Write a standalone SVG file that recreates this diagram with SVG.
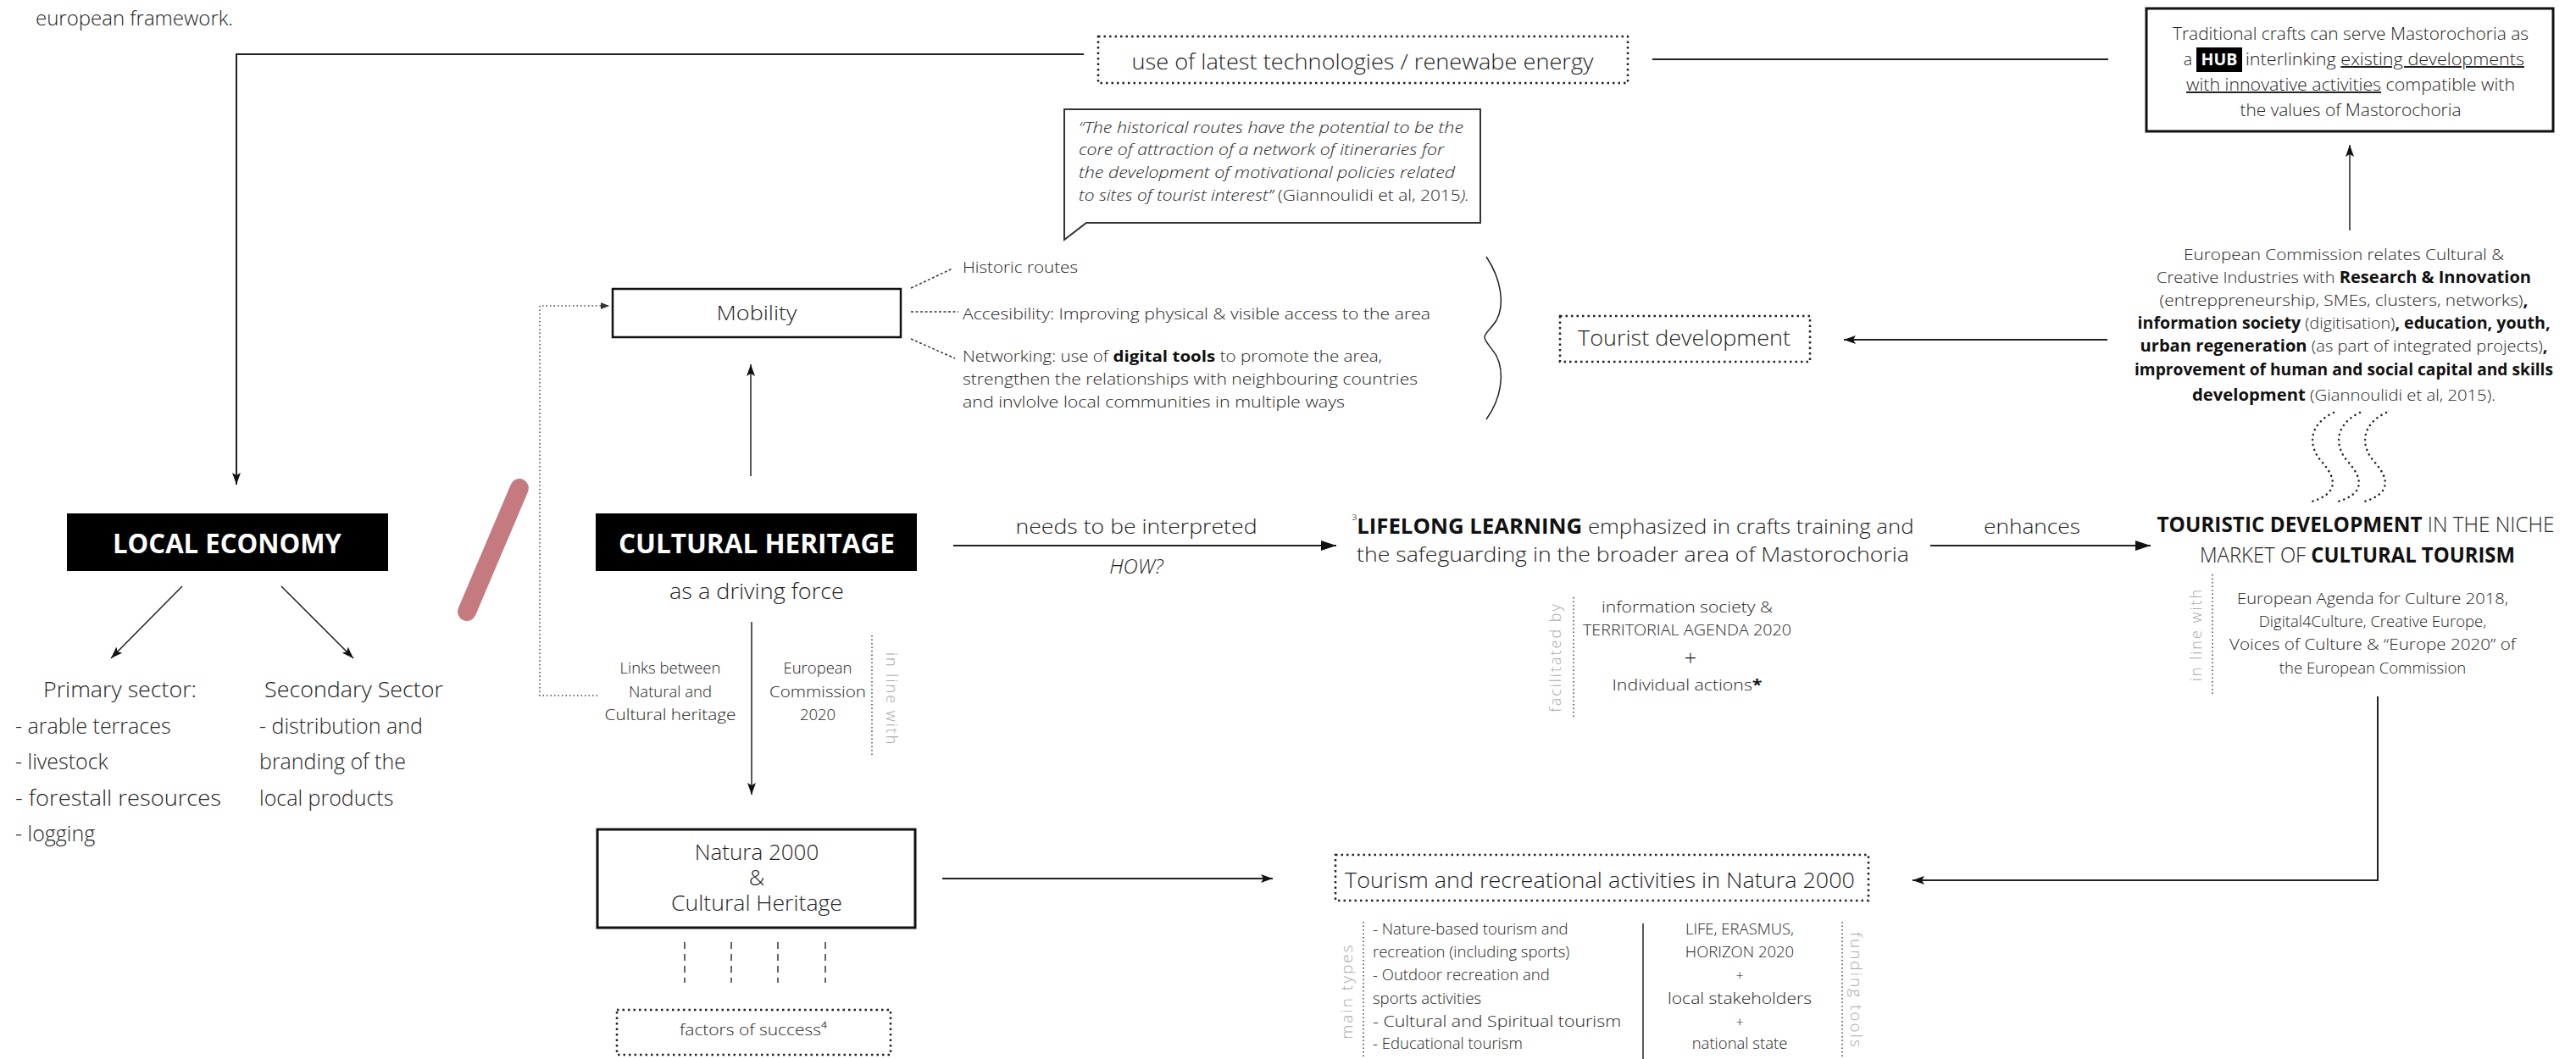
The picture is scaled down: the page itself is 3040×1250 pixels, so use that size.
<svg xmlns="http://www.w3.org/2000/svg" width="3040" height="1250" viewBox="0 0 3040 1250">
<style>
.f{font-family:"Open Sans","Liberation Sans",sans-serif;font-weight:300;fill:#1e1e1e}
.b{font-weight:700;fill:#111}
.it{font-style:italic}
.g{font-family:"Open Sans","Liberation Sans",sans-serif;font-weight:300;fill:#a9a9a9;letter-spacing:2px}
.m{text-anchor:middle}
.ln{fill:none;stroke:#222;stroke-width:2}
.thin{fill:none;stroke:#222;stroke-width:1.5}
.dotbox{fill:none;stroke:#222;stroke-width:2.5;stroke-dasharray:2.5 4}
.sep{fill:none;stroke:#444;stroke-width:1.5;stroke-dasharray:1.5 3}
.dash{fill:none;stroke:#333;stroke-width:1.5;stroke-dasharray:3 2.5}
.dots{fill:none;stroke:#222;stroke-width:2.5;stroke-linecap:round;stroke-dasharray:0.1 6}
</style>
<defs>
<marker id="a" viewBox="0 0 14 10" refX="14" refY="5" markerWidth="14" markerHeight="10" markerUnits="userSpaceOnUse" orient="auto"><path d="M0,0 L14,5 L0,10 L3,5 Z" fill="#111"/></marker>
<marker id="A" viewBox="0 0 18 12" refX="18" refY="6" markerWidth="18" markerHeight="12" markerUnits="userSpaceOnUse" orient="auto"><path d="M0,0 L18,6 L0,12 Z" fill="#111"/></marker>
<marker id="s" viewBox="0 0 10 8" refX="10" refY="4" markerWidth="10" markerHeight="8" markerUnits="userSpaceOnUse" orient="auto"><path d="M0,0 L10,4 L0,8 Z" fill="#333"/></marker>
</defs>
<rect width="3040" height="1250" fill="#fff"/>

<text class="f" x="42" y="30" font-size="24">european framework.</text>

<g id="connectors">
<path class="ln" d="M1279,64 H279 V572" marker-end="url(#a)"/>
<path class="ln" d="M2488,70 H1950"/>
<path class="thin" d="M2773,272 V171" marker-end="url(#a)"/>
<path class="ln" d="M2487,401 H2176" marker-end="url(#a)"/>
<path class="thin" d="M886,562 V430" marker-end="url(#a)"/>
<path class="sep" d="M705,821 H637 V361 H719" marker-end="url(#s)"/>
<path class="dash" d="M1075,340 L1124,317"/>
<path class="dash" d="M1075,368 H1131"/>
<path class="dash" d="M1075,400 L1127,423"/>
<path class="thin" d="M215,692 L131,777" marker-end="url(#a)"/>
<path class="thin" d="M332,692 L417,777" marker-end="url(#a)"/>
<path class="thin" d="M887,734 V938" marker-end="url(#a)"/>
<path class="ln" d="M1112,1037 H1502" marker-end="url(#a)"/>
<path class="ln" d="M1125,644 H1577" marker-end="url(#A)"/>
<path class="ln" d="M2278,644 H2538" marker-end="url(#A)"/>
<path class="ln" d="M2806,822 V1039 H2257" marker-end="url(#a)"/>
<path class="thin" d="M1754,303 C1772,330 1776,360 1766,378 C1760,388 1752,393 1752,398 C1752,403 1760,410 1766,420 C1776,440 1772,470 1754,495"/>
<g class="dots">
<path d="M2754,487 C2726,500 2722,525 2740,545 C2756,563 2762,582 2728,592"/>
<path d="M2785,487 C2757,500 2753,525 2771,545 C2787,563 2793,582 2759,592"/>
<path d="M2816,487 C2788,500 2784,525 2802,545 C2818,563 2824,582 2790,592"/>
</g>
<g fill="none" stroke="#333" stroke-width="1.5" stroke-dasharray="8 6">
<path d="M808,1112 V1160"/><path d="M863,1112 V1160"/><path d="M918,1112 V1160"/><path d="M974,1112 V1160"/>
</g>
<line x1="613" y1="576" x2="551" y2="722" stroke="#c47a7e" stroke-width="22" stroke-linecap="round"/>
</g>

<g id="tech">
<rect class="dotbox" x="1296" y="43" width="625" height="55"/>
<text class="f m" x="1608" y="82" font-size="25" textLength="545" lengthAdjust="spacingAndGlyphs">use of latest technologies / renewabe energy</text>
</g>

<g id="hub">
<rect x="2533" y="10" width="480" height="145" fill="none" stroke="#111" stroke-width="3"/>
<text class="f m" x="2774" y="47" font-size="19.5" textLength="420" lengthAdjust="spacingAndGlyphs">Traditional crafts can serve Mastorochoria as</text>
<text class="f" x="2587" y="77" font-size="19.5" text-anchor="end">a</text>
<rect x="2592" y="56" width="54" height="29" fill="#000"/>
<text class="f b m" x="2619" y="77" font-size="19.5" style="fill:#fff">HUB</text>
<text class="f" x="2650" y="77" font-size="19.5" textLength="329" lengthAdjust="spacingAndGlyphs">interlinking <tspan text-decoration="underline">existing developments </tspan></text>
<text class="f m" x="2774" y="107" font-size="19.5" textLength="388" lengthAdjust="spacingAndGlyphs"><tspan text-decoration="underline">with innovative activities</tspan> compatible with</text>
<text class="f m" x="2774" y="137" font-size="19.5" textLength="261" lengthAdjust="spacingAndGlyphs">the values of Mastorochoria</text>
</g>

<g id="quote">
<path d="M1256,129 H1747 V263 H1282 L1256,283 Z" fill="#fff" stroke="#333" stroke-width="2"/>
<text class="f it" x="1273" y="157" font-size="17.5" textLength="454" lengthAdjust="spacingAndGlyphs">“The historical routes have the potential to be the</text>
<text class="f it" x="1273" y="183" font-size="17.5" textLength="431" lengthAdjust="spacingAndGlyphs">core of attraction of a network of itineraries for</text>
<text class="f it" x="1273" y="210" font-size="17.5" textLength="444" lengthAdjust="spacingAndGlyphs">the development of motivational policies related</text>
<text class="f" x="1273" y="237" font-size="17.5" textLength="461" lengthAdjust="spacingAndGlyphs"><tspan class="it">to sites of tourist interest”</tspan> (Giannoulidi et al, 2015<tspan class="it">).</tspan></text>
</g>

<g id="mobility">
<rect x="723" y="341" width="340" height="57" fill="#fff" stroke="#111" stroke-width="2.5"/>
<text class="f m" x="893" y="378" font-size="24" textLength="95" lengthAdjust="spacingAndGlyphs">Mobility</text>
</g>

<g id="mobility-items">
<text class="f" x="1136" y="322" font-size="18.5" textLength="136" lengthAdjust="spacingAndGlyphs">Historic routes</text>
<text class="f" x="1136" y="377" font-size="18.5" textLength="552" lengthAdjust="spacingAndGlyphs">Accesibility: Improving physical &amp; visible access to the area</text>
<text class="f" x="1136" y="427" font-size="18.5" textLength="495" lengthAdjust="spacingAndGlyphs">Networking: use of <tspan class="b">digital tools</tspan> to promote the area,</text>
<text class="f" x="1136" y="454" font-size="18.5" textLength="537" lengthAdjust="spacingAndGlyphs">strengthen the relationships with neighbouring countries</text>
<text class="f" x="1136" y="481" font-size="18.5" textLength="451" lengthAdjust="spacingAndGlyphs">and invlolve local communities in multiple ways</text>
</g>

<g id="tourist-dev">
<rect class="dotbox" x="1841" y="373" width="295" height="54"/>
<text class="f" x="1862" y="408" font-size="26" textLength="251" lengthAdjust="spacingAndGlyphs">Tourist development</text>
</g>

<g id="ec">
<text class="f m" x="2766" y="307" font-size="19" textLength="378" lengthAdjust="spacingAndGlyphs">European Commission relates Cultural &amp;</text>
<text class="f m" x="2766" y="334" font-size="19" textLength="442" lengthAdjust="spacingAndGlyphs">Creative Industries with <tspan class="b">Research &amp; Innovation</tspan></text>
<text class="f m" x="2766" y="361" font-size="19" textLength="435" lengthAdjust="spacingAndGlyphs">(entreppreneurship, SMEs, clusters, networks)<tspan class="b">,</tspan></text>
<text class="f m" x="2766" y="388" font-size="19" textLength="487" lengthAdjust="spacingAndGlyphs"><tspan class="b">information society</tspan> (digitisation)<tspan class="b">, education, youth,</tspan></text>
<text class="f m" x="2766" y="415" font-size="19" textLength="481" lengthAdjust="spacingAndGlyphs"><tspan class="b">urban regeneration</tspan> (as part of integrated projects)<tspan class="b">,</tspan></text>
<text class="f b m" x="2766" y="443" font-size="19" textLength="494" lengthAdjust="spacingAndGlyphs">improvement of human and social capital and skills</text>
<text class="f m" x="2766" y="473" font-size="19" textLength="358" lengthAdjust="spacingAndGlyphs"><tspan class="b">development</tspan> (Giannoulidi et al, 2015).</text>
</g>

<g id="local-economy">
<rect x="79" y="606" width="379" height="68" fill="#000"/>
<text class="f b m" x="268" y="653" font-size="33" style="fill:#fff" textLength="270" lengthAdjust="spacingAndGlyphs">LOCAL ECONOMY</text>
</g>

<g id="primary">
<text class="f" x="51" y="823" font-size="25" textLength="181" lengthAdjust="spacingAndGlyphs">Primary sector:</text>
<text class="f" x="18" y="866" font-size="25">- arable terraces</text>
<text class="f" x="18" y="908" font-size="25">- livestock</text>
<text class="f" x="18" y="951" font-size="25" textLength="243" lengthAdjust="spacingAndGlyphs">- forestall resources</text>
<text class="f" x="18" y="993" font-size="25">- logging</text>
</g>

<g id="secondary">
<text class="f" x="312" y="823" font-size="25" textLength="211" lengthAdjust="spacingAndGlyphs">Secondary Sector</text>
<text class="f" x="306" y="866" font-size="25">- distribution and</text>
<text class="f" x="306" y="908" font-size="25">branding of the</text>
<text class="f" x="306" y="951" font-size="25">local products</text>
</g>

<g id="cultural-heritage">
<rect x="703" y="606" width="379" height="68" fill="#000"/>
<text class="f b m" x="893" y="653" font-size="33" style="fill:#fff" textLength="326" lengthAdjust="spacingAndGlyphs">CULTURAL HERITAGE</text>
<text class="f m" x="893" y="707" font-size="26" textLength="206" lengthAdjust="spacingAndGlyphs">as a driving force</text>
</g>

<g id="links">
<text class="f m" x="791" y="795" font-size="18.5">Links between</text>
<text class="f m" x="791" y="823" font-size="18.5">Natural and</text>
<text class="f m" x="791" y="850" font-size="18.5" textLength="155" lengthAdjust="spacingAndGlyphs">Cultural heritage</text>
</g>

<g id="ec2020">
<text class="f m" x="965" y="795" font-size="18.5">European</text>
<text class="f m" x="965" y="823" font-size="18.5" textLength="114" lengthAdjust="spacingAndGlyphs">Commission</text>
<text class="f m" x="965" y="850" font-size="18.5">2020</text>
<path class="sep" d="M1029,750 V892"/>
<text class="g" transform="translate(1046,770) rotate(90)" font-size="18">in line with</text>
</g>

<g id="natura">
<rect x="705" y="979" width="375" height="116" fill="#fff" stroke="#111" stroke-width="3"/>
<text class="f m" x="893" y="1015" font-size="26">Natura 2000</text>
<text class="f m" x="893" y="1045" font-size="26">&amp;</text>
<text class="f m" x="893" y="1075" font-size="26" textLength="202" lengthAdjust="spacingAndGlyphs">Cultural Heritage</text>
</g>

<g id="factors">
<rect class="dotbox" x="728" y="1192" width="323" height="53"/>
<text class="f m" x="889" y="1222" font-size="18.5" textLength="174" lengthAdjust="spacingAndGlyphs">factors of success⁴</text>
</g>

<g id="interpret">
<text class="f m" x="1341" y="630" font-size="24" textLength="285" lengthAdjust="spacingAndGlyphs">needs to be interpreted</text>
<text class="f it m" x="1341" y="677" font-size="24">HOW?</text>
</g>

<g id="lifelong">
<text class="f m" x="1927" y="630" font-size="24.5" textLength="663" lengthAdjust="spacingAndGlyphs"><tspan font-size="16" dy="-10">³</tspan><tspan class="b" dy="10">LIFELONG LEARNING</tspan> emphasized in crafts training and</text>
<text class="f m" x="1927" y="663" font-size="24.5" textLength="652" lengthAdjust="spacingAndGlyphs">the safeguarding in the broader area of Mastorochoria</text>
</g>

<g id="facilitated">
<path class="sep" d="M1857,705 V847"/>
<text class="g m" transform="translate(1842,776) rotate(-90)" font-size="18">facilitated by</text>
<text class="f m" x="1991" y="723" font-size="18.5" textLength="202" lengthAdjust="spacingAndGlyphs">information society &amp;</text>
<text class="f m" x="1991" y="750" font-size="18.5" textLength="246" lengthAdjust="spacingAndGlyphs">TERRITORIAL AGENDA 2020</text>
<text class="f m" x="1995" y="786" font-size="26">+</text>
<text class="f m" x="1991" y="815" font-size="18.5" textLength="177" lengthAdjust="spacingAndGlyphs">Individual actions<tspan class="b">*</tspan></text>
</g>

<g id="enhances">
<text class="f m" x="2398" y="630" font-size="24" textLength="114" lengthAdjust="spacingAndGlyphs">enhances</text>
</g>

<g id="touristic">
<text class="f m" x="2780" y="628" font-size="25" textLength="469" lengthAdjust="spacingAndGlyphs"><tspan class="b">TOURISTIC DEVELOPMENT</tspan> IN THE NICHE</text>
<text class="f m" x="2782" y="664" font-size="25" textLength="372" lengthAdjust="spacingAndGlyphs">MARKET OF <tspan class="b">CULTURAL TOURISM</tspan></text>
</g>

<g id="agenda">
<path class="sep" d="M2611,678 V822"/>
<text class="g m" transform="translate(2598,749) rotate(-90)" font-size="18">in line with</text>
<text class="f m" x="2800" y="713" font-size="18.5" textLength="320" lengthAdjust="spacingAndGlyphs">European Agenda for Culture 2018,</text>
<text class="f m" x="2800" y="740" font-size="18.5">Digital4Culture, Creative Europe,</text>
<text class="f m" x="2800" y="767" font-size="18.5" textLength="338" lengthAdjust="spacingAndGlyphs">Voices of Culture &amp; “Europe 2020” of</text>
<text class="f m" x="2800" y="795" font-size="18.5">the European Commission</text>
</g>

<g id="tourism-natura">
<rect class="dotbox" x="1576" y="1009" width="629" height="54"/>
<text class="f" x="1587" y="1048" font-size="26" textLength="602" lengthAdjust="spacingAndGlyphs">Tourism and recreational activities in Natura 2000</text>
</g>

<g id="main-types">
<path class="sep" d="M1609,1088 V1250"/>
<text class="g m" transform="translate(1596,1170) rotate(-90)" font-size="19">main types</text>
<text class="f" x="1620" y="1103" font-size="18.5">- Nature-based tourism and</text>
<text class="f" x="1620" y="1130" font-size="18.5">recreation (including sports)</text>
<text class="f" x="1620" y="1157" font-size="18.5">- Outdoor recreation and</text>
<text class="f" x="1620" y="1185" font-size="18.5">sports activities</text>
<text class="f" x="1620" y="1212" font-size="18.5" textLength="293" lengthAdjust="spacingAndGlyphs">- Cultural and Spiritual tourism</text>
<text class="f" x="1620" y="1238" font-size="18.5">- Educational tourism</text>
</g>

<g id="funding">
<path class="thin" d="M1939,1090 V1250"/>
<text class="f m" x="2053" y="1103" font-size="18.5">LIFE, ERASMUS,</text>
<text class="f m" x="2053" y="1130" font-size="18.5">HORIZON 2020</text>
<text class="f m" x="2053" y="1157" font-size="16">+</text>
<text class="f m" x="2053" y="1185" font-size="18.5" textLength="170" lengthAdjust="spacingAndGlyphs">local stakeholders</text>
<text class="f m" x="2053" y="1212" font-size="16">+</text>
<text class="f m" x="2053" y="1238" font-size="18.5">national state</text>
<path class="sep" d="M2174,1088 V1250"/>
<text class="g m" transform="translate(2184,1169) rotate(90)" font-size="19">funding tools</text>
</g>
</svg>
